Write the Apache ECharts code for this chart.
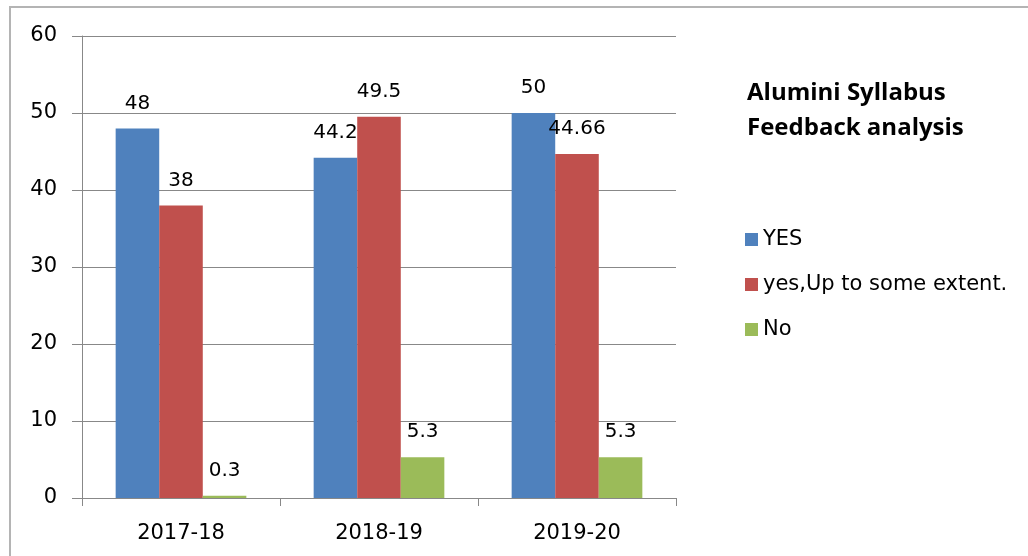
<!DOCTYPE html>
<html>
<head>
<meta charset="utf-8">
<script src="https://cdn.jsdelivr.net/npm/echarts@6/dist/echarts.min.js"></script>
<style>
  html, body { margin: 0; padding: 0; background: #fff; }
  #frame { position: absolute; left: 9px; top: 6px; width: 1019px; height: 550px;
           border-left: 2px solid #b4b4b4; border-top: 2px solid #b4b4b4; box-sizing: border-box; }
  #chart { position: absolute; left: 0; top: 0; width: 1028px; height: 556px; }
</style>
</head>
<body>
<div id="frame"></div>
<div id="chart"></div>
<script>
// 年份（类目）
var years = ['2017-18', '2018-19', '2019-20'];
// 各系列数值
var yesData = [48, 44.2, 50];
var someData = [38, 49.5, 44.66];
var noData = [0.3, 5.3, 5.3];
var seriesNames = ['YES', 'yes,Up to some extent.', 'No'];
var colors = ['#4F81BD', '#C0504D', '#9BBB59'];

var myChart = echarts.init(document.getElementById('chart'));

var labelFont = 'DejaVu Sans';

function makeSeries(name, data, color) {
    return {
        name: name,
        type: 'bar',
        data: data,
        barGap: '0%',
        barCategoryGap: '34%',
        itemStyle: { color: color },
        label: {
            show: true,
            position: 'top',
            distance: 15,
            color: '#000',
            fontFamily: labelFont,
            fontSize: 20
        }
    };
}

var option = {
    animation: false,
    backgroundColor: 'transparent',
    title: {
        text: 'Alumini Syllabus\nFeedback analysis',
        left: 742,
        top: 71,
        textStyle: {
            fontFamily: 'Open Sans',
            fontWeight: 'bold',
            fontSize: 24,
            lineHeight: 35,
            color: '#000'
        }
    },
    legend: {
        orient: 'vertical',
        left: 740,
        top: 224,
        itemWidth: 13,
        itemHeight: 13,
        itemGap: 24,
        icon: 'rect',
        data: seriesNames,
        textStyle: {
            fontFamily: labelFont,
            fontSize: 21,
            color: '#000'
        }
    },
    grid: {
        left: 82,
        right: 352,
        top: 36,
        bottom: 58
    },
    xAxis: {
        type: 'category',
        data: years,
        axisLine: { lineStyle: { color: '#888', width: 1 } },
        axisTick: { show: true, length: 8, lineStyle: { color: '#888' } },
        axisLabel: {
            margin: 25,
            color: '#000',
            fontFamily: labelFont,
            fontSize: 21
        }
    },
    yAxis: {
        type: 'value',
        min: 0,
        max: 60,
        interval: 10,
        axisLine: { show: true, lineStyle: { color: '#888', width: 1 } },
        axisTick: { show: true, length: 10, lineStyle: { color: '#888' } },
        splitLine: { show: true, lineStyle: { color: '#888', width: 1 } },
        axisLabel: {
            margin: 25,
            color: '#000',
            fontFamily: labelFont,
            fontSize: 21
        }
    },
    series: [
        makeSeries(seriesNames[0], yesData, colors[0]),
        makeSeries(seriesNames[1], someData, colors[1]),
        makeSeries(seriesNames[2], noData, colors[2])
    ]
};

myChart.setOption(option);
</script>
</body>
</html>
